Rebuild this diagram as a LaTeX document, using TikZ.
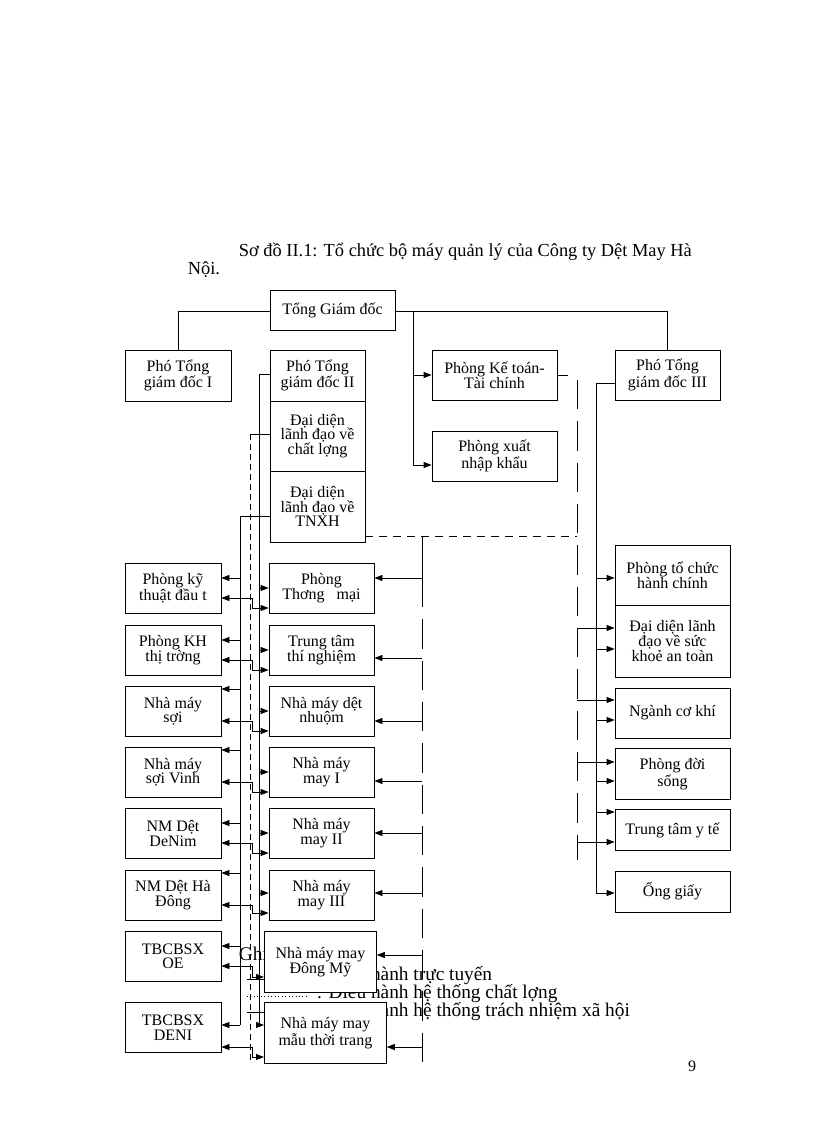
\documentclass[tikz,border=0pt]{standalone}
\usepackage{fontspec}
\setmainfont{Liberation Serif}
\usetikzlibrary{arrows.meta}
\tikzset{
  box/.style 2 args={draw, fill=white, align=center, inner sep=1pt,
    minimum width=#1*0.75pt, minimum height=#2*0.75pt,
    font=\fontsize{12}{11}\selectfont},
  arr/.style={-{Triangle[length=6pt,width=4.5pt]}},
  darr/.style={{Triangle[length=6pt,width=4.5pt]}-{Triangle[length=6pt,width=4.5pt]}},
  sdash/.style={dash pattern=on 4.5pt off 3pt},
  mdash/.style={dash pattern=on 6pt off 4.5pt},
  ldash/.style={dash pattern=on 22pt off 9pt},
}
\begin{document}
\begin{tikzpicture}[x=0.75pt, y=-0.75pt, line width=0.6pt]
\useasboundingbox (0,0) rectangle (816,1123);
% title
\node[anchor=base west, font=\fontsize{13.8}{15}\selectfont] (title) at (234,256) {Sơ đồ II.1: Tổ chức bộ máy quản lý của Công ty Dệt May Hà};
\node[anchor=base west, font=\fontsize{13.8}{15}\selectfont] (title2) at (183,274) {Nội.};
% legend
\node[anchor=base west, font=\fontsize{14.5}{15}\selectfont] (ghichu) at (234,960) {Ghi chú:};
\node[anchor=base west, font=\fontsize{14.5}{15}\selectfont] (lg1) at (312,980) {: Điều hành trực tuyến};
\node[anchor=base west, font=\fontsize{14.5}{15}\selectfont] (lg2) at (312,998) {: Điều hành hệ thống chất lợng};
\node[anchor=base west, font=\fontsize{14.5}{15}\selectfont] (lg3) at (312,1016) {: Điều hành hệ thống trách nhiệm xã hội};
\coordinate (l1a) at (247,979); \coordinate (l1b) at (310,979);
\coordinate (l2a) at (247,996); \coordinate (l2b) at (307,996);
\coordinate (l3a) at (247,1012); \coordinate (l3b) at (275,1012);
\draw (l1a) -- (l1b);
\draw[dotted] (l2a) -- (l2b);
\draw (l3a) -- (l3b);
% top boxes
\node[box={125}{40}] (tgd) at (332.5,310) {Tổng Giám đốc};
\node[box={106}{51}] (ptg1) at (178,375.5) {Phó Tổng\\giám đốc I};
\node[box={95}{51}] (ptg2) at (317.5,375.5) {Phó Tổng\\giám đốc II};
\node[box={95}{70}] (dd1) at (317.5,436) {Đại diện\\lãnh đạo về\\chất lợng};
\node[box={95}{71}] (dd2) at (317.5,506.5) {Đại diện\\lãnh đạo về\\TNXH};
\node[box={125}{50}] (kttc) at (494.5,375) {Phòng Kế toán-\\Tài chính};
\node[box={125}{50}] (xnk) at (494.5,456) {Phòng xuất\\nhập khẩu};
\node[box={105}{50}] (ptg3) at (667.5,375) {Phó Tổng\\giám đốc III};
% right column
\node[box={115}{60}] (r1) at (672.5,575) {Phòng tổ chức\\hành chính};
\node[box={115}{72}] (r2) at (672.5,641) {Đại diện lãnh\\đạo về sức\\khoẻ an toàn};
\node[box={115}{50}] (r3) at (672.5,713) {Ngành cơ khí};
\node[box={115}{51}] (r4) at (672.5,774) {Phòng đời\\sống};
\node[box={115}{41}] (r5) at (672.5,830) {Trung tâm y tế};
\node[box={115}{41}] (r6) at (672.5,891.5) {Ống giấy};
% left column
\foreach \tp/\txt [count=\i] in {563/{Phòng kỹ\\thuật đầu t}, 625/{Phòng KH\\thị trờng},
    686/{Nhà máy\\sợi}, 747/{Nhà máy\\sợi Vinh}, 808/{NM Dệt\\DeNim},
    870/{NM Dệt Hà\\Đông}, 931/{TBCBSX\\OE}, 1002/{TBCBSX\\DENI}}
  \node[box={96}{50}, anchor=north] (L\i) at (173,\tp) {\txt};
% middle column
\foreach \tp/\txt [count=\i] in {563/{Phòng\\Thơng\ \ \ mại}, 625/{Trung tâm\\thí nghiệm},
    686/{Nhà máy dệt\\nhuộm}, 747/{Nhà máy\\may I}, 808/{Nhà máy\\may II},
    870/{Nhà máy\\may III}}
  \node[box={105}{50}, anchor=north] (M\i) at (321.5,\tp) {\txt};
\node[box={112}{61}, anchor=north west] (M7) at (264,931) {Nhà máy may\\Đông Mỹ};
\node[box={122}{61}, anchor=north west] (M8) at (264,1002) {Nhà máy may\\mẫu thời trang};
% top connectors
\draw (tgd.west |- 0,311) -| (ptg1.north);
\draw (tgd.east |- 0,311) -| (ptg3.north);
\draw (413,311) -- (413,465);
\draw[arr] (413,375) -- (kttc.west);
\draw[arr] (413,465) -- (xnk.west |- 0,465);
% bus lines
\coordinate (bA) at (259,1025);
\coordinate (bB) at (240,1025);
\draw (ptg2.west |- 0,374) -| (bA);
\draw (dd2.west |- 0,516) -| (bB);
\draw (dd1.west |- 0,434) -- (250,434);
\draw[sdash] (250,434) -- (250,1062);
\draw[mdash] (dd2.east |- 0,536) -- (577,536);
\draw (422,536) -- (422,578);
\draw[ldash] (422,578) -- (422,1062);
\draw (kttc.east |- 0,375) -- (568,375);
\draw[ldash] (577,380) -- (577,860);
\draw (ptg3.west |- 0,383) -| (596,893);
% left and middle rows
\foreach \tp/\a/\b/\c [count=\i] in {563/15/35/45, 625/15/35/45, 686/3/35/45,
    747/3/35/45, 808/15/35/45, 870/3/35/43, 931/15/35/46, 1002/23/45/55} {
  \draw[arr] (240,\tp+\a) -- (L\i.east |- 0,\tp+\a);
  \draw[darr] (L\i.east |- 0,\tp+\b) -- (252,\tp+\b) -- (252,\tp+\c) -- (M\i.west |- 0,\tp+\c);
}
\foreach \y [count=\i] in {588, 650, 711, 772, 833, 893}
  \draw[arr] (259,\y) -- (M\i.west |- 0,\y);
\draw[arr] (259,1025) -- (M8.west |- 0,1025);
\foreach \y [count=\i] in {578, 658, 721, 781, 833, 893, 955, 1047}
  \draw[arr] (422,\y) -- (M\i.east |- 0,\y);
% right rows
\draw[arr] (596,578) -- (r1.west |- 0,578);
\draw[arr] (577,628) -- (r2.west |- 0,628);
\draw[arr] (596,649) -- (r2.west |- 0,649);
\draw[arr] (577,700) -- (r3.west |- 0,700);
\draw[arr] (596,720) -- (r3.west |- 0,720);
\draw[arr] (577,762) -- (r4.west |- 0,762);
\draw[arr] (596,781) -- (r4.west |- 0,781);
\draw[arr] (596,812) -- (r5.west |- 0,812);
\draw[arr] (577,842) -- (r5.west |- 0,842);
\draw[arr] (596,893) -- (r6.west |- 0,893);
% page number
\node[font=\fontsize{12}{14}\selectfont] (page) at (692,1066) {9};
\end{tikzpicture}
\end{document}
